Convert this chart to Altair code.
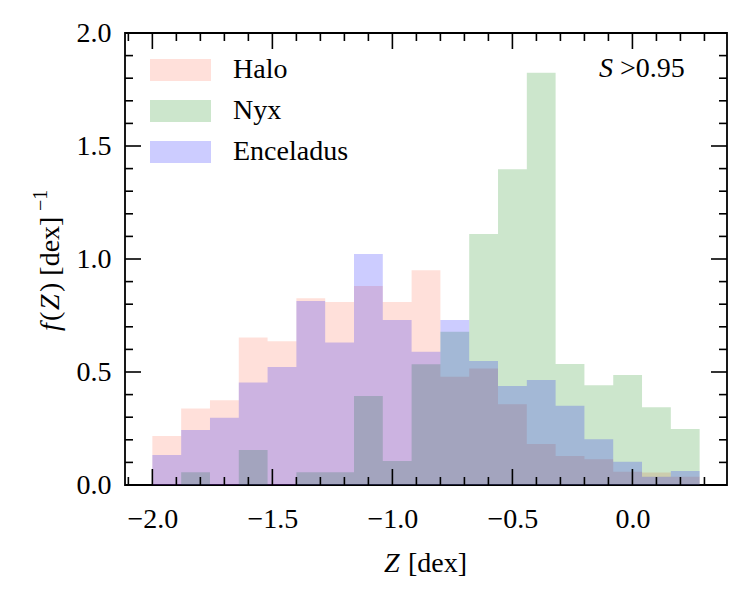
import altair as alt
import pandas as pd

# ---- data ----
bin_edges = [-2.00, -1.88, -1.76, -1.64, -1.52, -1.40, -1.28, -1.16, -1.04, -0.92,
             -0.80, -0.68, -0.56, -0.44, -0.32, -0.20, -0.08, 0.04, 0.16, 0.28]
halo = [0.217, 0.339, 0.375, 0.653, 0.636, 0.826, 0.810, 0.881, 0.810, 0.950,
        0.479, 0.516, 0.357, 0.181, 0.128, 0.114, 0.059, 0.055, 0.037]
nyx = [0.0, 0.056, 0.0, 0.155, 0.0, 0.056, 0.056, 0.394, 0.106, 0.534,
       0.678, 1.111, 1.397, 1.824, 0.535, 0.441, 0.487, 0.344, 0.248]
enceladus = [0.133, 0.243, 0.298, 0.453, 0.522, 0.814, 0.631, 1.022, 0.730, 0.590,
             0.730, 0.549, 0.438, 0.465, 0.351, 0.202, 0.103, 0.037, 0.062]
series_names = ["Halo", "Nyx", "Enceladus"]
series_colors = ["#ff6347", "#008000", "#0000ff"]

x_major = [-2.0, -1.5, -1.0, -0.5, 0.0]
x_minor = [-2.1, -1.9, -1.8, -1.7, -1.6, -1.4, -1.3, -1.2, -1.1, -0.9, -0.8,
           -0.7, -0.6, -0.4, -0.3, -0.2, -0.1, 0.1, 0.2, 0.3]
y_major = [0.0, 0.5, 1.0, 1.5, 2.0]
y_minor = [0.1, 0.2, 0.3, 0.4, 0.6, 0.7, 0.8, 0.9, 1.1, 1.2, 1.3, 1.4,
           1.6, 1.7, 1.8, 1.9]

x_title_parts = ["Z", "[dex]"]
y_title_parts = ["f", "(", "Z", ") [dex]", "\u22121"]
note_parts = ["S", ">0.95"]

# ---- build table ----
rows = []
for name, vals in zip(series_names, [halo, nyx, enceladus]):
    ext = vals + [vals[-1]]
    for e, v in zip(bin_edges, ext):
        rows.append({"series": name, "z": e, "f": v})
df = pd.DataFrame(rows)

W, H = 602, 452
FONT = "'Liberation Serif', 'Times New Roman', serif"
FS = 28

xscale = alt.Scale(domain=[-2.114, 0.394], nice=False, zero=False)
yscale = alt.Scale(domain=[0, 2], nice=False, zero=False)

xaxis = alt.Axis(values=x_major, format=".1f", ticks=False, domain=False, grid=False,
                 labelFont=FONT, labelFontSize=FS, labelColor="black", labelPadding=20,
                 labelFlush=False, title=None)
yaxis = alt.Axis(values=y_major, format=".1f", ticks=False, domain=False, grid=False,
                 labelFont=FONT, labelFontSize=FS, labelColor="black", labelPadding=14,
                 labelFlush=False, title=None)

legend = alt.Legend(title=None, orient="none", legendX=25, legendY=16.5,
                    symbolType="M-1,-0.36H1V0.36H-1Z", symbolSize=3721,
                    symbolOpacity=0.2, symbolStrokeWidth=0,
                    labelFont=FONT, labelFontSize=FS, labelColor="black",
                    labelOffset=22, clipHeight=41, rowPadding=0, padding=0)

color = alt.Color("series:N", scale=alt.Scale(domain=series_names, range=series_colors),
                  legend=legend)


def area(name):
    return alt.Chart(df).transform_filter(alt.datum.series == name).mark_area(
        interpolate="step-after", opacity=0.2
    ).encode(
        x=alt.X("z:Q", scale=xscale, axis=xaxis),
        y=alt.Y("f:Q", scale=yscale, axis=yaxis, stack=None),
        color=color,
    )


layers = [area(n) for n in series_names]

TW = 1.6
MAJ, MIN = 16, 8


def xticks(vals, length):
    d = pd.DataFrame({"v": vals})
    bottom = alt.Chart(d).mark_rule(color="black", strokeWidth=TW).encode(
        x=alt.X("v:Q", scale=xscale, axis=xaxis), y=alt.value(H), y2=alt.value(H - length))
    top = alt.Chart(d).mark_rule(color="black", strokeWidth=TW).encode(
        x=alt.X("v:Q", scale=xscale, axis=xaxis), y=alt.value(0), y2=alt.value(length))
    return [bottom, top]


def yticks(vals, length):
    d = pd.DataFrame({"v": vals})
    left = alt.Chart(d).mark_rule(color="black", strokeWidth=TW).encode(
        y=alt.Y("v:Q", scale=yscale, axis=yaxis), x=alt.value(0), x2=alt.value(length))
    right = alt.Chart(d).mark_rule(color="black", strokeWidth=TW).encode(
        y=alt.Y("v:Q", scale=yscale, axis=yaxis), x=alt.value(W), x2=alt.value(W - length))
    return [left, right]


layers += xticks(x_major, MAJ) + xticks(x_minor, MIN)
layers += yticks(y_major, MAJ) + yticks(y_minor, MIN)


def text(s, x, y, italic=False, size=FS, align="left", angle=0):
    kw = dict(font=FONT, fontSize=size, align=align, baseline="alphabetic", color="black")
    if italic:
        kw["fontStyle"] = "italic"
    if angle:
        kw["angle"] = angle
    return alt.Chart(pd.DataFrame({"t": [s]})).mark_text(**kw).encode(
        x=alt.value(x), y=alt.value(y), text="t:N")


# x title: "Z [dex]"
layers.append(text(x_title_parts[0], 259, 539, italic=True))
layers.append(text(x_title_parts[1], 283, 539))

# y title: f(Z) [dex]^-1 (rotated)
yb = -66
layers.append(text(y_title_parts[0], yb, 298, italic=True, angle=270))
layers.append(text(y_title_parts[1], yb, 288, angle=270))
layers.append(text(y_title_parts[2], yb, 277, italic=True, angle=270))
layers.append(text(y_title_parts[3], yb, 259, angle=270))
layers.append(text(y_title_parts[4], yb - 12, 178, size=20, angle=270))

# annotation S > 0.95
layers.append(text(note_parts[0], 488, 44, italic=True, align="right"))
layers.append(text(note_parts[1], 495, 44))

chart = alt.layer(*layers).properties(
    width=W, height=H,
    padding={"left": 125, "top": 33, "right": 23, "bottom": 115},
    autosize=alt.AutoSizeParams(type="none"),
).configure_view(stroke="black", strokeWidth=1.8)

chart.save("out.html", embed_options={"renderer": "svg", "actions": False})
